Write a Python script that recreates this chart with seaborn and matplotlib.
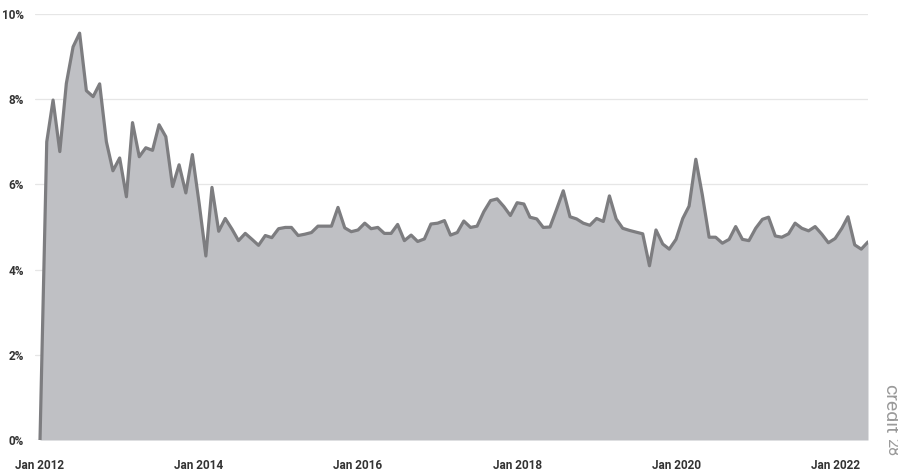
import pandas as pd
import numpy as np
import matplotlib
matplotlib.use("Agg")
import matplotlib.pyplot as plt
import matplotlib.dates as mdates
import seaborn as sns

# monthly values, Jan 2012 - Jun 2022 (percent)
rate_2012_2014 = [0.0, 7.0, 7.98, 6.77, 8.37, 9.23, 9.55, 8.2, 8.06, 8.36, 7.0, 6.32,
                  6.62, 5.71, 7.45, 6.65, 6.86, 6.8, 7.4, 7.12, 5.95, 6.46, 5.8, 6.7]
rate_2014_2016 = [5.56, 4.32, 5.93, 4.9, 5.2, 4.95, 4.68, 4.85, 4.71, 4.57, 4.8, 4.75,
                  4.96, 4.99, 4.99, 4.8, 4.83, 4.87, 5.02, 5.02, 5.02, 5.46, 4.98, 4.89]
rate_2016_2018 = [4.93, 5.09, 4.96, 4.99, 4.85, 4.85, 5.06, 4.68, 4.81, 4.66, 4.72, 5.07,
                  5.09, 5.15, 4.81, 4.87, 5.14, 4.99, 5.02, 5.36, 5.62, 5.66, 5.48, 5.27]
rate_2018_2020 = [5.57, 5.54, 5.23, 5.19, 4.99, 5.0, 5.41, 5.85, 5.24, 5.19, 5.09, 5.04,
                  5.2, 5.13, 5.73, 5.19, 4.97, 4.92, 4.88, 4.84, 4.09, 4.93, 4.6, 4.48]
rate_2020_2022 = [4.71, 5.2, 5.49, 6.59, 5.75, 4.76, 4.76, 4.62, 4.71, 5.01, 4.71, 4.68,
                  4.97, 5.18, 5.23, 4.79, 4.76, 4.84, 5.09, 4.97, 4.91, 5.01, 4.83, 4.63]
rate_2022 = [4.73, 4.97, 5.24, 4.58, 4.48, 4.65]

values = rate_2012_2014 + rate_2014_2016 + rate_2016_2018 + rate_2018_2020 + rate_2020_2022 + rate_2022
months = pd.date_range("2012-01-01", periods=len(values), freq="MS")
df = pd.DataFrame({"month": months, "rate": values})

tick_years = [2012, 2014, 2016, 2018, 2020, 2022]
y_ticks = [0, 2, 4, 6, 8, 10]

sns.set_style("white")
plt.rcParams["font.family"] = ["Roboto", "DejaVu Sans"]

fig = plt.figure(figsize=(8.98, 4.74), dpi=100)
ax = fig.add_axes([35 / 898, 1 - 440 / 474, (868 - 35) / 898, (440 - 14) / 474])

ax.fill_between(df["month"], df["rate"], 0, color="#bfc0c4", linewidth=0, zorder=2)
sns.lineplot(data=df, x="month", y="rate", ax=ax, color="#7d7d80", linewidth=2.3, zorder=3)

ax.set_ylim(0, 10)
ax.set_xlim(df["month"].iloc[0] - pd.Timedelta(days=23), df["month"].iloc[-1])
ax.set_yticks(y_ticks)
ax.set_yticklabels([f"{t}%" for t in y_ticks])
ax.set_xticks([pd.Timestamp(f"{y}-01-01") for y in tick_years])
ax.set_xticklabels([f"Jan {y}" for y in tick_years])
ax.grid(axis="y", color="#e6e6e6", linewidth=0.9, zorder=0)
ax.set_axisbelow(True)
for s in ax.spines.values():
    s.set_visible(False)
ax.tick_params(axis="y", length=0, pad=8, labelsize=8.5, labelcolor="#333333")
ax.tick_params(axis="x", length=0, pad=14, labelsize=8.5, labelcolor="#333333")
for lab in ax.get_xticklabels() + ax.get_yticklabels():
    lab.set_fontweight("bold")
ax.set_xlabel("")
ax.set_ylabel("")

# watermark
fig.text(890 / 898, 1 - 409 / 474, "credit", rotation=-90, ha="center", va="center",
         fontsize=14, color="#9a9a9a")
fig.text(892 / 898, 1 - 447 / 474, "28", rotation=-90, ha="center", va="center",
         fontsize=11.5, color="#9a9a9a")

fig.savefig("out.png", dpi=100)
